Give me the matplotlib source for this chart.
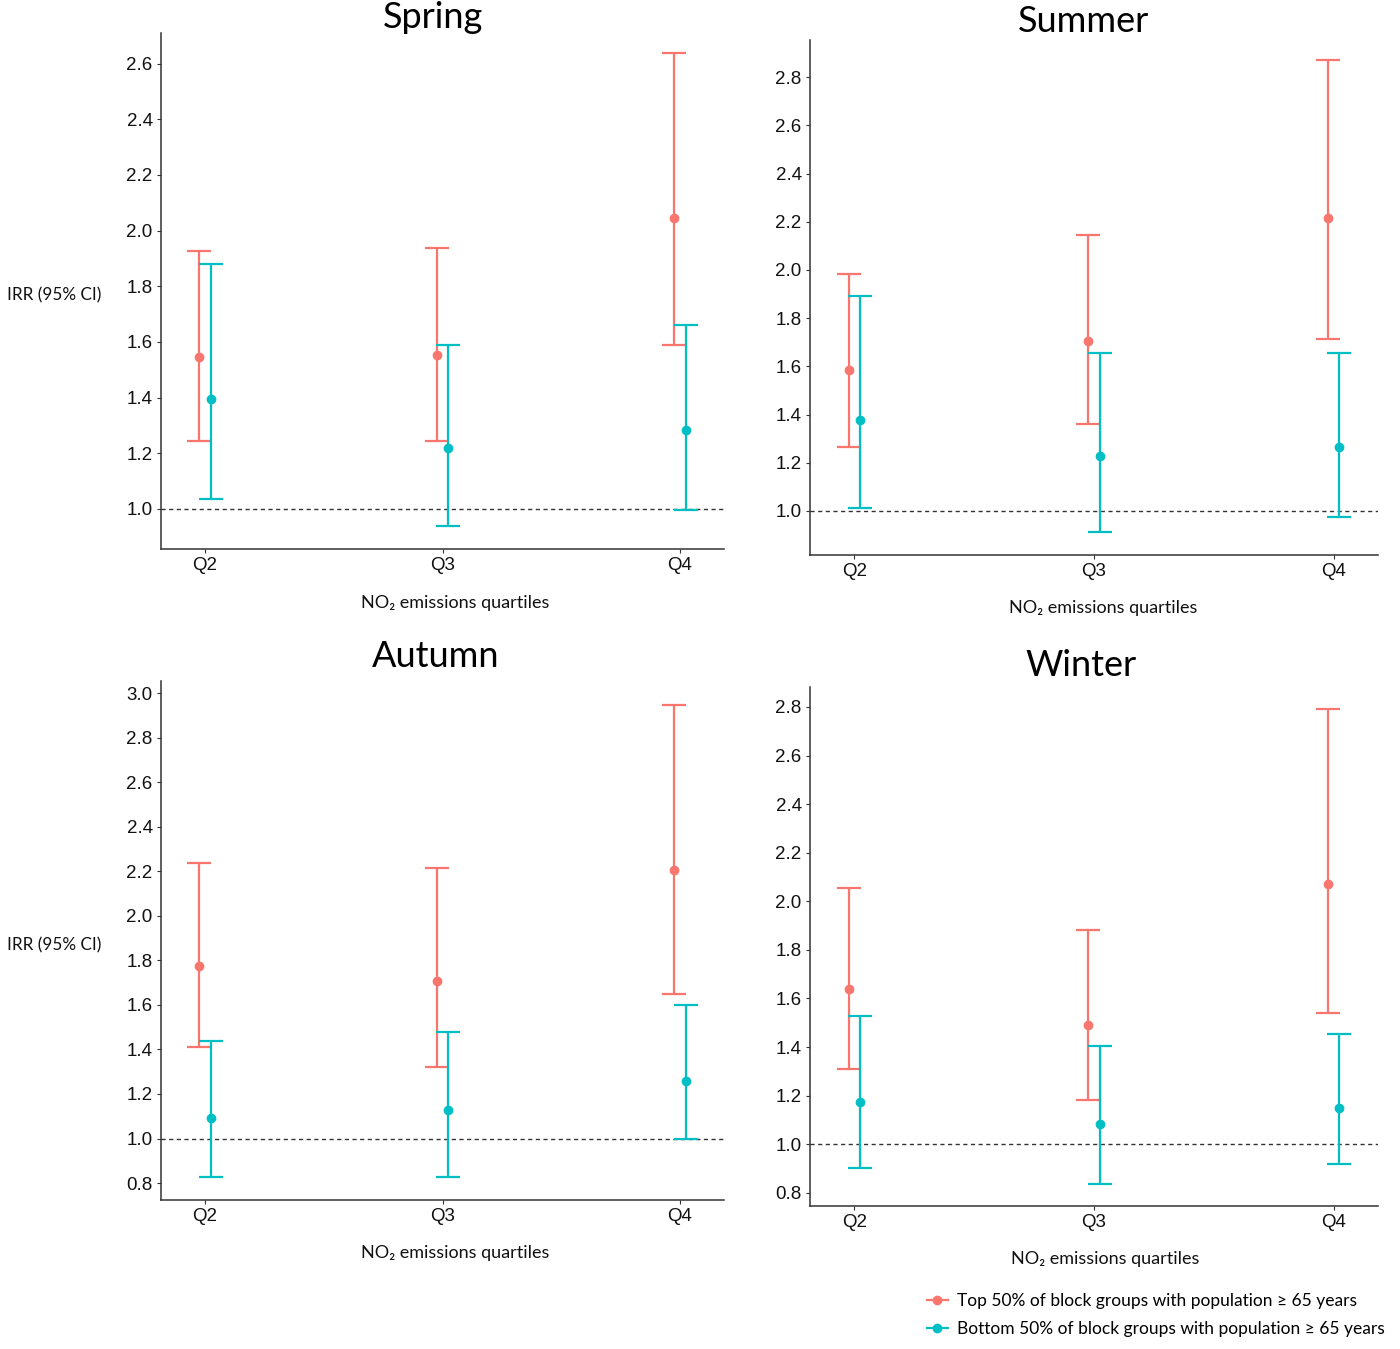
import matplotlib
matplotlib.use("Agg")
import matplotlib.pyplot as plt
from matplotlib.lines import Line2D
from matplotlib.font_manager import FontProperties
import numpy as np

categories = ['Q2', 'Q3', 'Q4']
seasons = ['Spring', 'Summer', 'Autumn', 'Winter']
legend_labels = ['Top 50% of block groups with population \u2265 65 years',
                 'Bottom 50% of block groups with population \u2265 65 years']

spring_top_est = [1.547, 1.552, 2.045]
spring_top_lo = [1.243, 1.245, 1.589]
spring_top_hi = [1.928, 1.937, 2.637]
spring_bot_est = [1.394, 1.220, 1.284]
spring_bot_lo = [1.036, 0.938, 0.996]
spring_bot_hi = [1.881, 1.589, 1.661]

summer_top_est = [1.586, 1.707, 2.216]
summer_top_lo = [1.267, 1.361, 1.713]
summer_top_hi = [1.983, 2.146, 2.873]
summer_bot_est = [1.379, 1.226, 1.266]
summer_bot_lo = [1.011, 0.911, 0.973]
summer_bot_hi = [1.890, 1.654, 1.656]

autumn_top_est = [1.774, 1.706, 2.205]
autumn_top_lo = [1.413, 1.320, 1.649]
autumn_top_hi = [2.237, 2.215, 2.948]
autumn_bot_est = [1.090, 1.126, 1.259]
autumn_bot_lo = [0.827, 0.827, 0.998]
autumn_bot_hi = [1.437, 1.478, 1.599]

winter_top_est = [1.641, 1.489, 2.071]
winter_top_lo = [1.311, 1.181, 1.540]
winter_top_hi = [2.055, 1.880, 2.790]
winter_bot_est = [1.175, 1.085, 1.151]
winter_bot_lo = [0.902, 0.838, 0.918]
winter_bot_hi = [1.527, 1.404, 1.452]

RED = '#F8766D'
TEAL = '#00BFC4'
TXT = ['Lato', 'DejaVu Sans']
TICKF = ['Liberation Sans', 'DejaVu Sans']

W, H = 1400, 1349
fig = plt.figure(figsize=(W / 100, H / 100), dpi=100)

def frac_rect(l, t, r, b):
    return [l / W, 1 - b / H, (r - l) / W, (b - t) / H]

panels = [
    dict(name='Spring', rect=frac_rect(161, 33, 724, 549), ylim=(0.856, 2.71),
         ticks=np.arange(1.0, 2.61, 0.2),
         top=(spring_top_est, spring_top_lo, spring_top_hi),
         bot=(spring_bot_est, spring_bot_lo, spring_bot_hi),
         title=(433, 18), xlab=(455, 603), irr=295),
    dict(name='Summer', rect=frac_rect(810, 40, 1378, 555), ylim=(0.817, 2.954),
         ticks=np.arange(1.0, 2.81, 0.2),
         top=(summer_top_est, summer_top_lo, summer_top_hi),
         bot=(summer_bot_est, summer_bot_lo, summer_bot_hi),
         title=(1083, 21), xlab=(1103, 608), irr=None),
    dict(name='Autumn', rect=frac_rect(161, 681, 724, 1200), ylim=(0.724, 3.054),
         ticks=np.arange(0.8, 3.01, 0.2),
         top=(autumn_top_est, autumn_top_lo, autumn_top_hi),
         bot=(autumn_bot_est, autumn_bot_lo, autumn_bot_hi),
         title=(436, 657), xlab=(455, 1253), irr=945),
    dict(name='Winter', rect=frac_rect(810, 687, 1378, 1206), ylim=(0.746, 2.882),
         ticks=np.arange(0.8, 2.81, 0.2),
         top=(winter_top_est, winter_top_lo, winter_top_hi),
         bot=(winter_bot_est, winter_bot_lo, winter_bot_hi),
         title=(1081, 665), xlab=(1105, 1259), irr=None),
]

x = np.arange(1, len(categories) + 1)
dodge = 0.024

for p in panels:
    ax = fig.add_axes(p['rect'])
    for (est, lo, hi), col, off in ((p['top'], RED, -dodge), (p['bot'], TEAL, dodge)):
        est = np.array(est); lo = np.array(lo); hi = np.array(hi)
        ax.errorbar(x + off, est, yerr=[est - lo, hi - est], fmt='o', color=col,
                    ecolor=col, elinewidth=1.6, capsize=8.5, capthick=1.6,
                    markersize=6, zorder=3)
    ax.axhline(1.0, color='#333333', lw=1.0, ls=(0, (3, 2.5)), zorder=2)
    ax.set_xlim(0.815, 3.185)
    ax.set_ylim(*p['ylim'])
    ax.set_xticks(x)
    ax.set_xticklabels(categories)
    ax.set_yticks(p['ticks'])
    ax.set_yticklabels([f'{t:.1f}' for t in p['ticks']])
    for s in ('top', 'right'):
        ax.spines[s].set_visible(False)
    for s in ('left', 'bottom'):
        ax.spines[s].set_color('#333333')
        ax.spines[s].set_linewidth(1.1)
    ax.tick_params(axis='both', direction='out', length=3, width=0.8,
                   color='#333333', labelsize=13.5, pad=3)
    for lab in ax.get_xticklabels() + ax.get_yticklabels():
        lab.set_family(TICKF)
        lab.set_color('#111111')
    fig.text(p['title'][0] / W, 1 - p['title'][1] / H, p['name'], ha='center',
             va='center', fontsize=26, family=TXT, color='black')
    fig.text(p['xlab'][0] / W, 1 - p['xlab'][1] / H,
             'NO\u2082 emissions quartiles', ha='center', va='center',
             fontsize=13, family=TXT, color='#111111')
    if p['irr'] is not None:
        fig.text(7 / W, 1 - p['irr'] / H, 'IRR (95% CI)', ha='left', va='center',
                 fontsize=12.3, family=TXT, color='#111111')

handles = [Line2D([], [], color=RED, marker='o', markersize=6, lw=1.6),
           Line2D([], [], color=TEAL, marker='o', markersize=6, lw=1.6)]
fig.legend(handles, legend_labels, loc='upper left',
           bbox_to_anchor=(918 / W, 1 - 1284 / H), frameon=False,
           handlelength=1.2, handletextpad=0.55, labelspacing=0.72,
           borderpad=0, prop=FontProperties(family=TXT, size=12.5))

fig.savefig('out.png', dpi=100)
